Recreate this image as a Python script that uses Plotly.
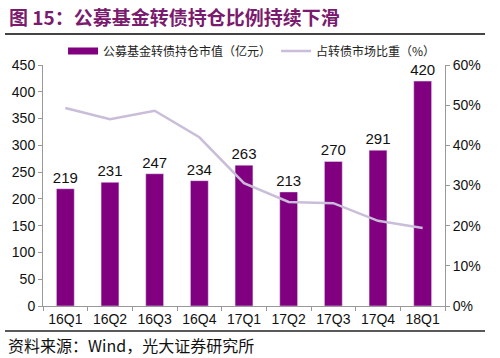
import plotly.graph_objects as go

categories = ["16Q1", "16Q2", "16Q3", "16Q4", "17Q1", "17Q2", "17Q3", "17Q4", "18Q1"]
holdings = [219, 231, 247, 234, 263, 213, 270, 291, 420]
share_pct = [49.3, 46.5, 48.6, 42.0, 30.6, 25.9, 25.6, 21.2, 19.4]
left_ticks = [0, 50, 100, 150, 200, 250, 300, 350, 400, 450]
right_ticks = [0, 10, 20, 30, 40, 50, 60]

W, H = 500, 358
ml, mr, mt, mb = 43, 55, 65, 52
pw, ph = W - ml - mr, H - mt - mb

def px(x):
    return (x - ml) / pw

def py(y):
    return (H - mb - y) / ph

font = "Liberation Sans, Arial, Noto Sans CJK SC, sans-serif"
cjk = "Noto Sans CJK SC, sans-serif"
bar_color = "#800080"

fig = go.Figure()
fig.add_trace(go.Bar(
    x=categories, y=holdings, name="公募基金转债持仓市值（亿元）",
    marker_color=bar_color, text=holdings, textposition="outside",
    textfont=dict(size=15, color="#111", family=font), cliponaxis=False,
    constraintext="none", showlegend=False,
))
# legend swatch for the bars (wide rectangle like the reference)
fig.add_trace(go.Scatter(
    x=[None], y=[None], name="公募基金转债持仓市值（亿元）", mode="lines",
    line=dict(color=bar_color, width=7), showlegend=True,
))
fig.add_trace(go.Scatter(
    x=categories, y=share_pct, name="占转债市场比重（%）", yaxis="y2",
    mode="lines", line=dict(color="#c9bdd9", width=2.5),
))

fig.update_layout(
    width=W, height=H, margin=dict(l=ml, r=mr, t=mt, b=mb, autoexpand=False),
    paper_bgcolor="white", plot_bgcolor="white",
    font=dict(family=font, size=14, color="#111"),
    bargap=0.6, showlegend=True,
    legend=dict(orientation="h", x=0.52, xanchor="center", y=py(51), yanchor="middle",
                font=dict(family=cjk, size=12, color="#222"), itemwidth=30,
                traceorder="normal", bgcolor="rgba(0,0,0,0)"),
    xaxis=dict(showline=True, linecolor="#999", ticks="outside", tickson="boundaries",
               ticklen=4, tickcolor="#999", tickfont=dict(size=14)),
    yaxis=dict(range=[0, 450], tickvals=left_ticks, showgrid=False, showline=True,
               linecolor="#999", ticks="outside", ticklen=4, tickcolor="#999",
               tickfont=dict(size=14), zeroline=False),
    yaxis2=dict(range=[0, 60], tickvals=right_ticks, ticktext=[f"{v}%" for v in right_ticks],
                overlaying="y", side="right", showgrid=False, showline=True,
                linecolor="#999", ticks="outside", ticklen=4, tickcolor="#999",
                tickfont=dict(size=14), zeroline=False),
    shapes=[
        dict(type="line", xref="paper", yref="paper", x0=px(5), x1=px(485), y0=py(34), y1=py(34),
             line=dict(color="#444", width=2)),
        dict(type="line", xref="paper", yref="paper", x0=px(5), x1=px(485), y0=py(331), y1=py(331),
             line=dict(color="#222", width=1.5)),
    ],
    annotations=[
        dict(text="<b>图 15：公募基金转债持仓比例持续下滑</b>", xref="paper", yref="paper",
             x=px(7), y=py(16), xanchor="left", yanchor="middle", showarrow=False,
             font=dict(family=cjk, size=19, color="#7a1b6e")),
        dict(text="资料来源：Wind，光大证券研究所", xref="paper", yref="paper",
             x=px(6), y=py(345), xanchor="left", yanchor="middle", showarrow=False,
             font=dict(family=cjk, size=16, color="#111")),
    ],
)

fig.write_html("out.html", config={"displayModeBar": False},
               post_script="document.body.style.margin='0';document.body.style.padding='0';")
